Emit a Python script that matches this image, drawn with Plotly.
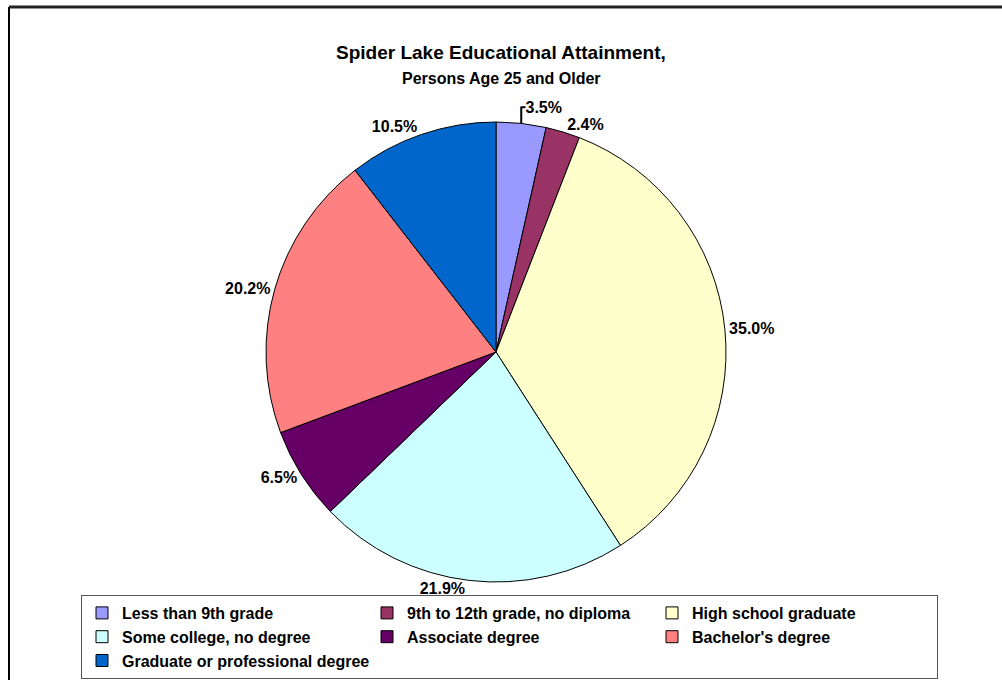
import plotly.graph_objects as go

categories = ["Less than 9th grade", "9th to 12th grade, no diploma", "High school graduate",
              "Some college, no degree", "Associate degree", "Bachelor's degree",
              "Graduate or professional degree"]
values = [3.5, 2.4, 35.0, 21.9, 6.5, 20.2, 10.5]
colors = ["#9999FF", "#993366", "#FFFFCC", "#CCFFFF", "#660066", "#FF8080", "#0066CC"]

W, H = 1002, 680
cx, cy, r = 496, 352, 230
FONT = "Liberation Sans, Arial, sans-serif"

fig = go.Figure(go.Pie(
    labels=categories, values=values, sort=False, direction="clockwise", rotation=0,
    marker=dict(colors=colors, line=dict(color="black", width=1)),
    texttemplate="%{value:.1f}%", textposition="outside",
    outsidetextfont=dict(family=FONT, size=16, color="black", weight="bold"),
    textfont=dict(family=FONT, size=16, color="black", weight="bold"),
    domain=dict(x=[(cx - r) / W, (cx + r) / W], y=[(H - cy - r) / H, (H - cy + r) / H]),
    hoverinfo="label+percent",
))

fig.update_layout(
    width=W, height=H, margin=dict(l=0, r=0, t=0, b=0),
    paper_bgcolor="white", plot_bgcolor="white",
    font=dict(family=FONT, color="black"),
    annotations=[
        dict(text="<b>Spider Lake Educational Attainment,</b>", x=0.5, y=1 - 53 / H,
             xref="paper", yref="paper", showarrow=False, font=dict(size=19),
             xanchor="center", yanchor="middle"),
        dict(text="<b>Persons Age 25 and Older</b>", x=0.5, y=1 - 78 / H,
             xref="paper", yref="paper", showarrow=False, font=dict(size=16),
             xanchor="center", yanchor="middle"),
    ],
    legend=dict(orientation="h", x=81 / W, y=1 - 595 / H, xanchor="left", yanchor="top",
                entrywidth=240, entrywidthmode="pixels",
                bordercolor="#555555", borderwidth=1, bgcolor="white",
                font=dict(size=16, weight="bold", family=FONT),
                traceorder="normal", itemclick=False, itemdoubleclick=False),
    shapes=[
        dict(type="line", xref="paper", yref="paper", x0=9 / W, x1=9 / W, y0=0, y1=1 - 7 / H,
             line=dict(color="black", width=2)),
        dict(type="line", xref="paper", yref="paper", x0=9 / W, x1=1, y0=1 - 7 / H, y1=1 - 7 / H,
             line=dict(color="#222222", width=3)),
    ],
)

fig.write_html("out.html", config={"displayModeBar": False},
               post_script="document.body.style.margin='0';document.body.style.padding='0';")
